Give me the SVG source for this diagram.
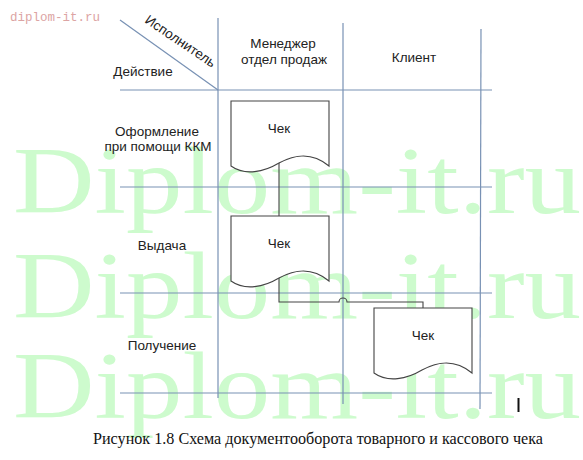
<svg xmlns="http://www.w3.org/2000/svg" xmlns:xlink="http://www.w3.org/1999/xlink" width="583" height="460" viewBox="0 0 583 460">
<style>
.wm{font-family:"Liberation Serif","Times New Roman",serif;font-size:96px;fill:#cdfbcd}
.wm2{font-family:"Liberation Mono","DejaVu Sans Mono",monospace;font-size:12.5px;fill:#dca4a4}
.grid{stroke:#7891b4;stroke-width:1.2;fill:none}
.lbl{font-family:"Liberation Sans",Arial,sans-serif;font-size:13.5px;fill:#222;text-anchor:middle}
.doc{fill:#fff;stroke:#444;stroke-width:1.1}
.conn{fill:none;stroke:#444;stroke-width:1.1}
.cap{font-family:"Liberation Serif","Times New Roman",serif;font-size:16px;fill:#111;text-anchor:middle}
</style>
<defs>
<path id="doc" d="M0,0 H98 V65 C79,49 61,55 48,62 C33,71 14,75 0,65 Z"/>
</defs>
<rect width="583" height="460" fill="#fff"/>
<g id="watermark">
<text class="wm2" x="10" y="21">diplom-it.ru</text>
<text class="wm" x="13" y="213" textLength="568" lengthAdjust="spacingAndGlyphs">Diplom-it.ru</text>
<text class="wm" x="13" y="318" textLength="568" lengthAdjust="spacingAndGlyphs">Diplom-it.ru</text>
<text class="wm" x="13" y="418" textLength="568" lengthAdjust="spacingAndGlyphs">Diplom-it.ru</text>
</g>
<g id="grid">
<line class="grid" x1="120" y1="20" x2="218" y2="90"/>
<line class="grid" x1="218" y1="18" x2="218" y2="398"/>
<line class="grid" x1="343" y1="23" x2="343" y2="404"/>
<line class="grid" x1="481" y1="29" x2="480" y2="409"/>
<line class="grid" x1="120" y1="90" x2="492" y2="90"/>
<line class="grid" x1="120" y1="187" x2="492" y2="187"/>
<line class="grid" x1="120" y1="293" x2="492" y2="293"/>
<line class="grid" x1="120" y1="393" x2="492" y2="393"/>
</g>
<g id="headers">
<text class="lbl" transform="translate(178,45) rotate(34)">Исполнитель</text>
<text class="lbl" x="143" y="76">Действие</text>
<text class="lbl" x="283" y="48">Менеджер</text>
<text class="lbl" x="284" y="64">отдел продаж</text>
<text class="lbl" x="414" y="62">Клиент</text>
<text class="lbl" x="157" y="136">Оформление</text>
<text class="lbl" x="158" y="151">при помощи ККМ</text>
<text class="lbl" x="162" y="250">Выдача</text>
<text class="lbl" x="162" y="350">Получение</text>
</g>
<g id="connectors">
<path class="conn" d="M279,160 V216"/>
<path class="conn" d="M279,278 V302 H339 A4,4 0 0 1 347,302 H423 V308"/>
</g>
<g id="doc1">
<use xlink:href="#doc" class="doc" x="231" y="101"/>
<text class="lbl" x="279" y="133">Чек</text>
</g>
<g id="doc2">
<use xlink:href="#doc" class="doc" x="231" y="216"/>
<text class="lbl" x="279" y="248">Чек</text>
</g>
<g id="doc3">
<use xlink:href="#doc" class="doc" x="374" y="308"/>
<text class="lbl" x="423" y="340">Чек</text>
</g>
<line x1="518.5" y1="398" x2="518.5" y2="412" stroke="#111" stroke-width="2"/>
<text class="cap" x="318" y="444" textLength="450" lengthAdjust="spacingAndGlyphs">Рисунок 1.8 Схема документооборота товарного и кассового чека</text>
</svg>
